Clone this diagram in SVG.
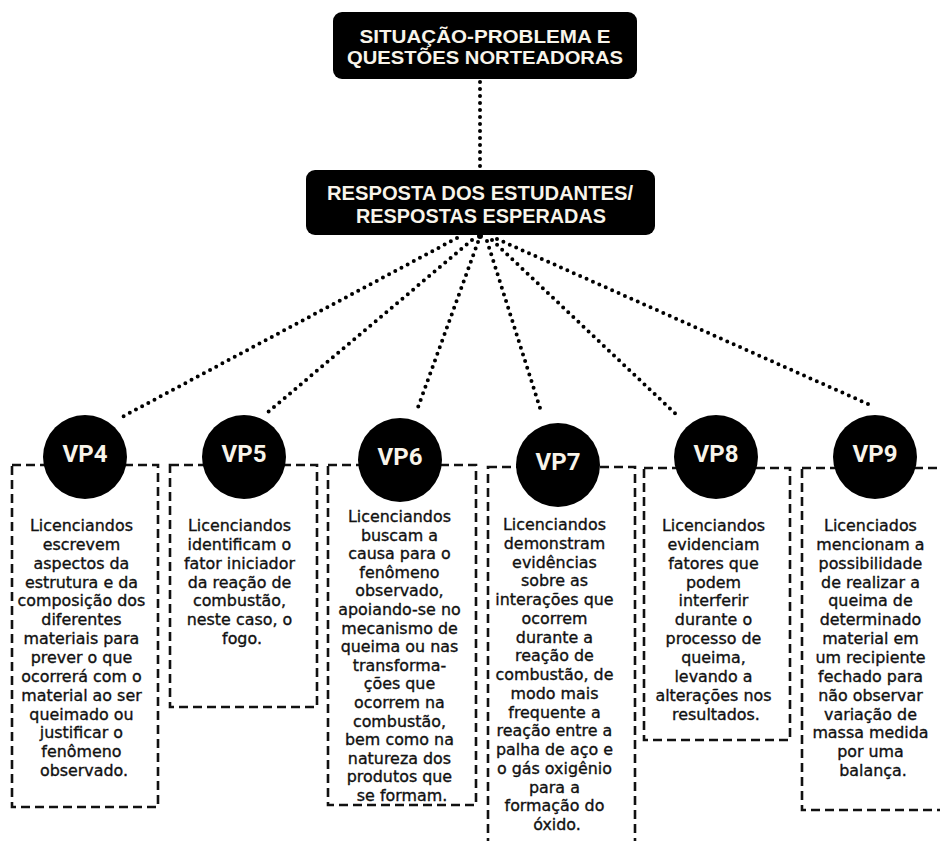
<svg xmlns="http://www.w3.org/2000/svg" width="940" height="841" viewBox="0 0 940 841">
<style>
.hdr{fill:#000}
.htxt{font-family:"Liberation Sans",Arial,sans-serif;font-weight:700;fill:#f8f4ea;text-anchor:middle}
.h1{font-size:18.8px}
.h2{font-size:19.8px}
.circ{fill:#000}
.vp{font-family:Roboto,"Liberation Sans",sans-serif;font-weight:700;font-size:24px;fill:#f8f4ea;text-anchor:middle}
.box{fill:none;stroke:#111;stroke-width:2.6;stroke-dasharray:9 5}
.body{font-family:"DejaVu Sans","Noto Sans",sans-serif;font-size:15.9px;fill:#111;stroke:#111;stroke-width:0.35;text-anchor:middle}
.dot{fill:none;stroke:#000;stroke-width:4;stroke-linecap:round;stroke-dasharray:0 7}
</style>
<rect width="940" height="841" fill="#fff"/>
<g id="connectors">
<line class="dot" x1="480" y1="82" x2="480" y2="170"/>
<line class="dot" x1="457" y1="238" x2="122" y2="417"/>
<line class="dot" x1="472" y1="240" x2="268" y2="412"/>
<line class="dot" x1="478" y1="242" x2="417" y2="410"/>
<line class="dot" x1="487" y1="241" x2="540" y2="408"/>
<line class="dot" x1="492" y1="240" x2="680" y2="418"/>
<line class="dot" x1="497" y1="239" x2="868" y2="404"/>
<circle cx="480" cy="236" r="3" fill="#000"/>
</g>
<g id="top">
<rect class="hdr" x="333" y="12" width="304" height="67" rx="9"/>
<text class="htxt h1" x="485" y="43" textLength="251" lengthAdjust="spacingAndGlyphs">SITUAÇÃO-PROBLEMA E</text>
<text class="htxt h1" x="485" y="64" textLength="276" lengthAdjust="spacingAndGlyphs">QUESTÕES NORTEADORAS</text>
</g>
<g id="resposta">
<rect class="hdr" x="306" y="170" width="349" height="65" rx="9"/>
<text class="htxt h2" x="480" y="200" textLength="306" lengthAdjust="spacingAndGlyphs">RESPOSTA DOS ESTUDANTES/</text>
<text class="htxt h2" x="481" y="223" textLength="250" lengthAdjust="spacingAndGlyphs">RESPOSTAS ESPERADAS</text>
</g>
<g id="vp4">
<rect class="box" x="12" y="465" width="146" height="342"/>
<circle class="circ" cx="85" cy="457" r="42"/>
<text class="vp" x="85" y="462">VP4</text>
<text class="body" x="84" y="531">
<tspan x="84" dy="0">Licenciandos</tspan>
<tspan x="84" dy="18.85">escrevem</tspan>
<tspan x="84" dy="18.85">aspectos da</tspan>
<tspan x="84" dy="18.85">estrutura e da</tspan>
<tspan x="84" dy="18.85">composição dos</tspan>
<tspan x="84" dy="18.85">diferentes</tspan>
<tspan x="84" dy="18.85">materiais para</tspan>
<tspan x="84" dy="18.85">prever o que</tspan>
<tspan x="84" dy="18.85">ocorrerá com o</tspan>
<tspan x="84" dy="18.85">material ao ser</tspan>
<tspan x="84" dy="18.85">queimado ou</tspan>
<tspan x="84" dy="18.85">justificar o</tspan>
<tspan x="84" dy="18.85">fenômeno</tspan>
<tspan x="84" dy="18.85">observado.</tspan>
</text>
</g>
<g id="vp5">
<rect class="box" x="170" y="465" width="147" height="242"/>
<circle class="circ" cx="244" cy="457" r="42"/>
<text class="vp" x="244" y="462">VP5</text>
<text class="body" x="242" y="531">
<tspan x="242" dy="0">Licenciandos</tspan>
<tspan x="242" dy="18.85">identificam o</tspan>
<tspan x="242" dy="18.85">fator iniciador</tspan>
<tspan x="242" dy="18.85">da reação de</tspan>
<tspan x="242" dy="18.85">combustão,</tspan>
<tspan x="242" dy="18.85">neste caso, o</tspan>
<tspan x="242" dy="18.85">fogo.</tspan>
</text>
</g>
<g id="vp6">
<rect class="box" x="328" y="465" width="148" height="340"/>
<circle class="circ" cx="400" cy="460" r="42"/>
<text class="vp" x="400" y="465">VP6</text>
<text class="body" x="402" y="522">
<tspan x="402" dy="0">Licenciandos</tspan>
<tspan x="402" dy="18.6">buscam a</tspan>
<tspan x="402" dy="18.6">causa para o</tspan>
<tspan x="402" dy="18.6">fenômeno</tspan>
<tspan x="402" dy="18.6">observado,</tspan>
<tspan x="402" dy="18.6">apoiando-se no</tspan>
<tspan x="402" dy="18.6">mecanismo de</tspan>
<tspan x="402" dy="18.6">queima ou nas</tspan>
<tspan x="402" dy="18.6">transforma-</tspan>
<tspan x="402" dy="18.6">ções que</tspan>
<tspan x="402" dy="18.6">ocorrem na</tspan>
<tspan x="402" dy="18.6">combustão,</tspan>
<tspan x="402" dy="18.6">bem como na</tspan>
<tspan x="402" dy="18.6">natureza dos</tspan>
<tspan x="402" dy="18.6">produtos que</tspan>
<tspan x="402" dy="18.6">se formam.</tspan>
</text>
</g>
<g id="vp7">
<rect class="box" x="488" y="467" width="147" height="400"/>
<circle class="circ" cx="558" cy="465" r="42"/>
<text class="vp" x="558" y="470">VP7</text>
<text class="body" x="557" y="530">
<tspan x="557" dy="0">Licenciandos</tspan>
<tspan x="557" dy="18.75">demonstram</tspan>
<tspan x="557" dy="18.75">evidências</tspan>
<tspan x="557" dy="18.75">sobre as</tspan>
<tspan x="557" dy="18.75">interações que</tspan>
<tspan x="557" dy="18.75">ocorrem</tspan>
<tspan x="557" dy="18.75">durante a</tspan>
<tspan x="557" dy="18.75">reação de</tspan>
<tspan x="557" dy="18.75">combustão, de</tspan>
<tspan x="557" dy="18.75">modo mais</tspan>
<tspan x="557" dy="18.75">frequente a</tspan>
<tspan x="557" dy="18.75">reação entre a</tspan>
<tspan x="557" dy="18.75">palha de aço e</tspan>
<tspan x="557" dy="18.75">o gás oxigênio</tspan>
<tspan x="557" dy="18.75">para a</tspan>
<tspan x="557" dy="18.75">formação do</tspan>
<tspan x="557" dy="18.75">óxido.</tspan>
</text>
</g>
<g id="vp8">
<rect class="box" x="644" y="468" width="146" height="272"/>
<circle class="circ" cx="716" cy="457" r="42"/>
<text class="vp" x="716" y="462">VP8</text>
<text class="body" x="716" y="531">
<tspan x="716" dy="0">Licenciandos</tspan>
<tspan x="716" dy="18.85">evidenciam</tspan>
<tspan x="716" dy="18.85">fatores que</tspan>
<tspan x="716" dy="18.85">podem</tspan>
<tspan x="716" dy="18.85">interferir</tspan>
<tspan x="716" dy="18.85">durante o</tspan>
<tspan x="716" dy="18.85">processo de</tspan>
<tspan x="716" dy="18.85">queima,</tspan>
<tspan x="716" dy="18.85">levando a</tspan>
<tspan x="716" dy="18.85">alterações nos</tspan>
<tspan x="716" dy="18.85">resultados.</tspan>
</text>
</g>
<g id="vp9">
<rect class="box" x="802" y="468" width="160" height="342"/>
<circle class="circ" cx="875" cy="457" r="42"/>
<text class="vp" x="875" y="462">VP9</text>
<text class="body" x="873" y="531">
<tspan x="873" dy="0">Licenciados</tspan>
<tspan x="873" dy="18.85">mencionam a</tspan>
<tspan x="873" dy="18.85">possibilidade</tspan>
<tspan x="873" dy="18.85">de realizar a</tspan>
<tspan x="873" dy="18.85">queima de</tspan>
<tspan x="873" dy="18.85">determinado</tspan>
<tspan x="873" dy="18.85">material em</tspan>
<tspan x="873" dy="18.85">um recipiente</tspan>
<tspan x="873" dy="18.85">fechado para</tspan>
<tspan x="873" dy="18.85">não observar</tspan>
<tspan x="873" dy="18.85">variação de</tspan>
<tspan x="873" dy="18.85">massa medida</tspan>
<tspan x="873" dy="18.85">por uma</tspan>
<tspan x="873" dy="18.85">balança.</tspan>
</text>
</g>
</svg>
